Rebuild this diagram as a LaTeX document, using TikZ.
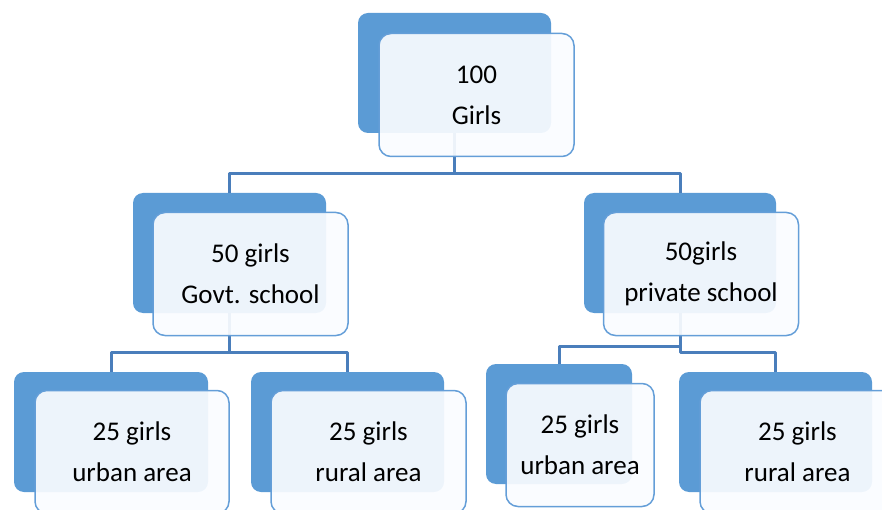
\documentclass[tikz,border=0pt]{standalone}
\usepackage{fontspec}
\setmainfont{Carlito}
\usepackage{tikz}
\usetikzlibrary{positioning}

\definecolor{boxblue}{RGB}{91,155,213}
\definecolor{lineblue}{RGB}{74,126,187}
\definecolor{edgeblue}{RGB}{100,158,216}
\definecolor{paleblue}{RGB}{250,252,255}

\tikzset{
  backbox/.style={fill=boxblue,draw=none,rounded corners=10pt,inner sep=0pt,minimum height=120pt},
  frontbox/.style={fill=paleblue,fill opacity=0.92,text opacity=1,draw=edgeblue,line width=1.5pt,
    rounded corners=12pt,inner sep=0pt,minimum height=123pt,align=center,
    font=\fontsize{27}{41}\selectfont},
  link/.style={draw=lineblue,line width=3pt}
}

\begin{document}
\begin{tikzpicture}[x=1pt,y=-1pt,line join=round]
\useasboundingbox (0,0) rectangle (882,510);

%back layer
\node[backbox,minimum width=193pt] (b1) at (454.5,73) {};
\node[backbox,minimum width=193pt] (b2) at (229.5,253) {};
\node[backbox,minimum width=192pt] (b3) at (680,253) {};
\node[backbox,minimum width=194pt] (b4) at (111,432) {};
\node[backbox,minimum width=193pt] (b5) at (347.5,432) {};
\node[backbox,minimum width=146pt] (b6) at (559,424) {};
\node[backbox,minimum width=193pt] (b7) at (775.5,432) {};

%connectors
\draw[link] (b1.south) -- ++(0,40) -| (b2.north);
\draw[link] (b1.south) -- ++(0,40) -| (b3.north);
\draw[link] (b2.south) -- ++(0,39) -| (b4.north);
\draw[link] (b2.south) -- ++(0,39) -| (b5.north);
\draw[link] (b3.south) -- ++(0,33) -| (b6.north);
\draw[link] (b3.south) -- ++(0,39) -| (b7.north);

%front layer
\node[frontbox,minimum width=195pt] (f1) at ([shift={(22,22)}]b1.center) {100\\Girls};
\node[frontbox,minimum width=195pt] (f2) at ([shift={(21,21)}]b2.center) {50 girls\\Govt. school};
\node[frontbox,minimum width=195pt] (f3) at ([shift={(21,21)}]b3.center) {50girls\\private school};
\node[frontbox,minimum width=194pt] (f4) at ([shift={(21,20)}]b4.center) {25 girls\\urban area};
\node[frontbox,minimum width=195pt] (f5) at ([shift={(21,20)}]b5.center) {25 girls\\rural area};
\node[frontbox,minimum width=148pt] (f6) at ([shift={(21,21)}]b6.center) {25 girls\\urban area};
\node[frontbox,minimum width=195pt] (f7) at ([shift={(22,20)}]b7.center) {25 girls\\rural area};

\end{tikzpicture}
\end{document}
